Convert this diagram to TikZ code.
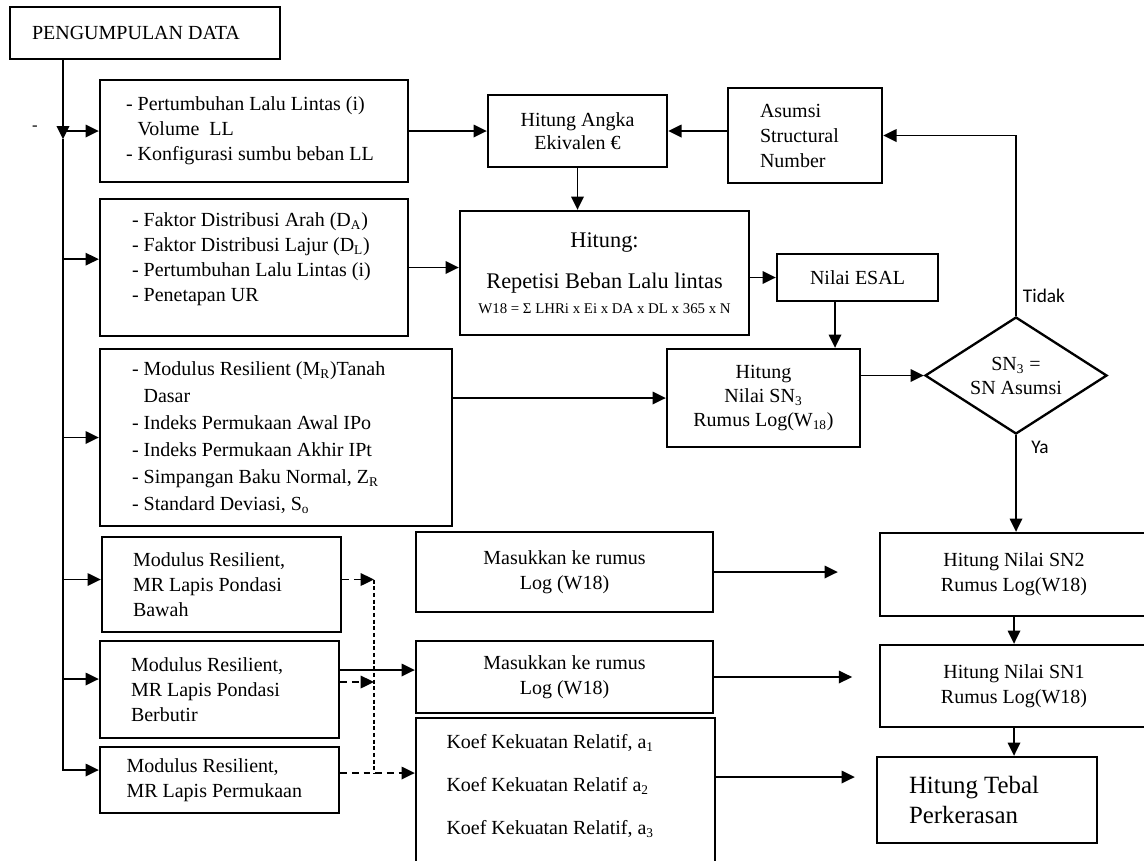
\documentclass[tikz,border=0pt]{standalone}
\usepackage{fontspec}
\setmainfont{Liberation Serif}
\newfontfamily\labelfont{Carlito}
\usetikzlibrary{arrows.meta, shapes.geometric}

\tikzset{
    box/.style={draw, line width=1.4pt, inner sep=0pt, font=\fontsize{12}{15}\selectfont},
    lbox/.style={box, align=flush left},
    cbox/.style={box, align=flush center},
    line/.style={line width=1.1pt},
    arr/.style={line, -{Triangle[length=8pt, width=7.5pt]}},
    darr/.style={arr, dash pattern=on 4pt off 3pt},
    dline/.style={line width=0.9pt, dash pattern=on 2.5pt off 1.5pt},
    answer/.style={font=\labelfont\fontsize{11.6}{14}\selectfont},
}

\begin{document}
\begin{tikzpicture}[x=0.6pt, y=-0.6pt]
        \useasboundingbox (0,0) rectangle (1144,860);

        % Left column
        \node[lbox, minimum width=162pt, minimum height=31.2pt, text width=135.6pt] (data) at (145,33) {PENGUMPULAN DATA};
        \node[lbox, minimum width=184.8pt, minimum height=61.2pt, text width=153.6pt] (lalin) at (254,131)
            {- Pertumbuhan Lalu Lintas (i)\\ \hspace*{0.58em}Volume~~LL\\- Konfigurasi sumbu beban LL};
        \node[lbox, minimum width=184.8pt, minimum height=82.2pt, text width=146.4pt] (faktor) at (254,267.5)
            {- Faktor Distribusi Arah (D\textsubscript{A})\\- Faktor Distribusi Lajur (D\textsubscript{L})\\- Pertumbuhan Lalu Lintas (i)\\- Penetapan UR\\[-3pt]~};
        \node[lbox, minimum width=211.2pt, minimum height=106.2pt, text width=172.8pt, font=\fontsize{12}{16.2}\selectfont] (tanah) at (276,437.5)
            {- Modulus Resilient (M\textsubscript{R})Tanah\\ \hspace*{0.58em}Dasar\\- Indeks Permukaan Awal IPo\\- Indeks Permukaan Akhir IPt\\- Simpangan Baku Normal, Z\textsubscript{R}\\- Standard Deviasi, S\textsubscript{o}};
        \node[lbox, minimum width=143.4pt, minimum height=57pt, text width=106.2pt] (pondbawah) at (221.5,584.5)
            {Modulus Resilient,\\MR Lapis Pondasi\\Bawah};
        \node[lbox, minimum width=143.4pt, minimum height=58.2pt, text width=106.2pt] (pondbutir) at (219.5,689.5)
            {Modulus Resilient,\\MR Lapis Pondasi\\Berbutir};
        \node[lbox, minimum width=143.4pt, minimum height=39.6pt, text width=111.6pt] (permukaan) at (219.5,780)
            {Modulus Resilient,\\MR Lapis Permukaan};
        \node (minus) at (35,128) {-};

        % Middle column
        \node[cbox, minimum width=107.4pt, minimum height=43.2pt, text width=96pt, font=\fontsize{12}{13.8}\selectfont] (ekivalen) at (577.5,131)
            {Hitung Angka\\Ekivalen €};
        \node[lbox, minimum width=92.4pt, minimum height=57pt, text width=54pt] (asumsi) at (805,135.5)
            {Asumsi\\Structural\\Number};
        \node[cbox, minimum width=173.4pt, minimum height=74.4pt, text width=168pt] (repetisi) at (604.5,273)
            {\fontsize{13.4}{24.6}\selectfont Hitung:\\Repetisi Beban Lalu lintas\par
             \fontsize{8.9}{19.8}\selectfont \mbox{W18 = Σ LHRi x Ei x DA x DL x 365 x N}};
        \node[cbox, minimum width=96.6pt, minimum height=28.2pt, text width=84pt] (esal) at (857.5,277.5) {Nilai ESAL};
        \node[cbox, minimum width=115.8pt, minimum height=58.8pt, text width=102pt, font=\fontsize{12}{14.4}\selectfont] (sntiga) at (763.5,398)
            {Hitung\\Nilai SN\textsubscript{3}\\Rumus Log(W\textsubscript{18})};
        \node[box, diamond, shape aspect=1.55, minimum width=109.2pt, minimum height=70.2pt, align=center, font=\fontsize{12}{14.4}\selectfont] (cek) at (1016,375.5)
            {SN\textsubscript{3} =\\SN Asumsi};
        \node[answer] (tidak) at (1044,296) {Tidak};
        \node[answer] (ya) at (1040,447) {Ya};

        % Lower part
        \node[cbox, minimum width=178.2pt, minimum height=48pt, text width=156pt] (masuk1) at (564.5,572)
            {Masukkan ke rumus\\Log (W18)};
        \node[cbox, minimum width=178.2pt, minimum height=43.2pt, text width=156pt] (masuk2) at (564.5,677)
            {Masukkan ke rumus\\Log (W18)};
        \node[lbox, minimum width=179.4pt, minimum height=94.2pt, text width=142.8pt] (koef) at (565.5,796.5)
            {Koef Kekuatan Relatif, a\textsubscript{1}\\[10.8pt]Koef Kekuatan Relatif a\textsubscript{2}\\[10.8pt]Koef Kekuatan Relatif, a\textsubscript{3}\\~};
        \node[cbox, minimum width=160.8pt, minimum height=49.8pt, text width=120pt] (sndua) at (1014,574.5)
            {Hitung Nilai SN2\\Rumus Log(W18)};
        \node[cbox, minimum width=160.8pt, minimum height=49.2pt, text width=120pt] (snsatu) at (1014,686)
            {Hitung Nilai SN1\\Rumus Log(W18)};
        \node[lbox, minimum width=132pt, minimum height=51.6pt, text width=93.6pt, font=\fontsize{14.9}{18}\selectfont] (tebal) at (987,800)
            {Hitung Tebal\\Perkerasan};

        \coordinate (bus) at (63,0);
        \coordinate (dbus) at (374,0);

        % Bus
        \draw[arr] (data.south -| bus) -- ([yshift=-5pt]lalin.west -| bus);
        \draw[arr] ([yshift=-5pt]lalin.west -| bus) -- ([yshift=6pt]permukaan.west -| bus) -- ([yshift=6pt]permukaan.west);
        \draw[arr] (lalin.west -| bus) -- (lalin.west);
        \draw[arr] ([yshift=5pt]faktor.west -| bus) -- ([yshift=5pt]faktor.west);
        \draw[arr] (tanah.west -| bus) -- (tanah.west);
        \draw[arr] ([yshift=3pt]pondbawah.west -| bus) -- ([yshift=3pt]pondbawah.west);
        \draw[arr] ([yshift=6.3pt]pondbutir.west -| bus) -- ([yshift=6.3pt]pondbutir.west);

        % Flow
        \draw[arr] (lalin.east) -- (ekivalen.west);
        \draw[arr] (asumsi.west |- ekivalen.east) -- (ekivalen.east);
        \draw[arr] (ekivalen.south) -- (ekivalen.south |- repetisi.north);
        \draw[arr] (faktor.east) -- (faktor.east -| repetisi.west);
        \draw[arr] (repetisi.east |- esal.west) -- (esal.west);
        \draw[arr] ([xshift=-13.5pt]esal.south) -- ([xshift=-13.5pt]esal.south |- sntiga.north);
        \draw[arr] (tanah.east |- sntiga.west) -- (sntiga.west);
        \draw[arr] (sntiga.east |- cek.west) -- (cek.west);
        \draw[arr] (cek.north) -- (cek.north |- asumsi.east) -- (asumsi.east);
        \draw[arr] (cek.south) -- (cek.south |- sndua.north);
        \draw[arr] (sndua.south) -- (snsatu.north);
        \draw[arr] (snsatu.south) -- (snsatu.south |- tebal.north);

        %% -> right column
        \draw[arr, shorten >=24.6pt] (masuk1.east) -- (masuk1.east -| sndua.west);
        \draw[arr, shorten >=16pt] (masuk2.east) -- (masuk2.east -| snsatu.west);
        \draw[arr, shorten >=12.6pt] ([yshift=11.7pt]koef.east) -- ([yshift=11.7pt]koef.east -| tebal.west);
        \draw[arr] ([yshift=11.7pt]pondbutir.east) -- ([yshift=11.7pt]pondbutir.east -| masuk2.west);

        %% dashed
        \draw[darr] ([yshift=3pt]pondbawah.east) -- ([yshift=3pt]pondbawah.east -| dbus);
        \draw[darr] ([yshift=4.5pt]pondbutir.east) -- ([yshift=4.5pt]pondbutir.east -| dbus);
        \draw[dline] ([yshift=3pt]pondbawah.east -| dbus) -- ([yshift=4.2pt]permukaan.east -| dbus);
        \draw[darr] ([yshift=4.2pt]permukaan.east) -- ([yshift=4.2pt]permukaan.east -| koef.west);

    \end{tikzpicture}
\end{document}
